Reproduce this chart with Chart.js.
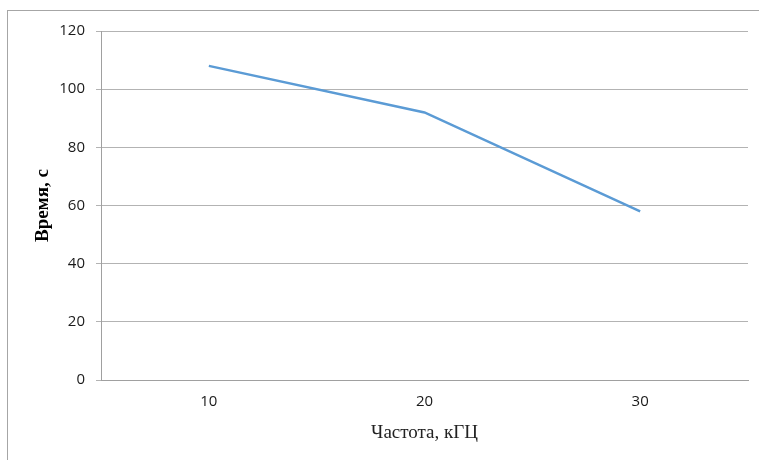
<!DOCTYPE html>
<html lang="ru">
<head>
    <meta charset="UTF-8">
    <title>Время от частоты</title>
    <script src="https://cdn.jsdelivr.net/npm/chart.js"></script>
    <style>
        html, body { margin: 0; padding: 0; background: #fff; }
        #wrap { width: 759px; height: 460px; position: relative; }
    </style>
</head>
<body>

<div id="wrap"><canvas id="lineChart"></canvas></div>

<script>
    // data
    const categories = ['10', '20', '30'];
    const timeValues = [108, 92, 58];
    const yTicks = [0, 20, 40, 60, 80, 100, 120];

    // gray frame around the chart (cut off at right/bottom like the source)
    const framePlugin = {
        id: 'frame',
        beforeDraw(chart) {
            const c = chart.ctx;
            c.save();
            c.fillStyle = '#fff';
            c.fillRect(0, 0, chart.width, chart.height);
            c.strokeStyle = '#a6a6a6';
            c.lineWidth = 1;
            c.strokeRect(7.5, 10.5, 800, 500);
            c.restore();
        }
    };

    const ctx = document.getElementById('lineChart').getContext('2d');
    const lineChart = new Chart(ctx, {
        type: 'line',
        data: {
            labels: categories,
            datasets: [{
                label: 'Время',
                data: timeValues,
                borderColor: '#5B9BD5',
                borderWidth: 2.5,
                pointRadius: 0,
                tension: 0,
                fill: false
            }]
        },
        options: {
            responsive: true,
            maintainAspectRatio: false,
            animation: false,
            layout: { padding: { top: 31, right: 11, left: 0, bottom: 0 } },
            plugins: {
                legend: { display: false },
                tooltip: { enabled: false }
            },
            scales: {
                x: {
                    offset: true,
                    grid: { display: false, drawTicks: false },
                    border: { display: true, color: '#a0a0a0' },
                    ticks: {
                        color: '#1a1a1a',
                        padding: 13,
                        font: { family: 'Open Sans', size: 15 }
                    },
                    title: {
                        display: true,
                        text: 'Частота, кГЦ',
                        color: '#222',
                        padding: { top: 4, bottom: 16 },
                        font: { family: 'Liberation Serif', size: 19 }
                    },
                    afterFit(scale) { scale.height = 80; }
                },
                y: {
                    min: 0,
                    max: 120,
                    afterBuildTicks(scale) {
                        scale.ticks = yTicks.map(v => ({ value: v }));
                    },
                    grid: {
                        color: '#b3b3b3',
                        tickLength: 5,
                        drawTicks: true
                    },
                    border: { display: true, color: '#a0a0a0' },
                    ticks: {
                        color: '#1a1a1a',
                        padding: 11,
                        font: { family: 'Open Sans', size: 15 }
                    },
                    title: {
                        display: true,
                        text: 'Время, с',
                        color: '#000',
                        padding: { top: 32, bottom: 0 },
                        font: { family: 'Liberation Serif', size: 19, weight: 'bold' }
                    },
                    afterFit(scale) { scale.width = 101; }
                }
            }
        },
        plugins: [framePlugin]
    });
</script>

</body>
</html>
